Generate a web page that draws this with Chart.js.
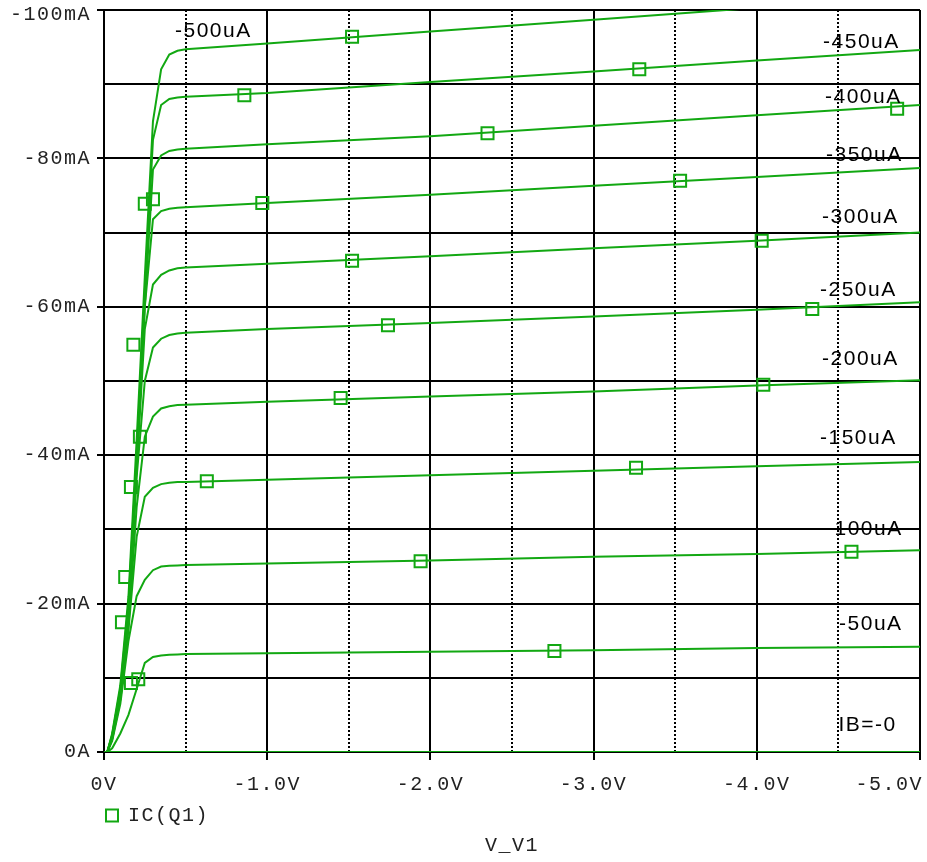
<!DOCTYPE html>
<html>
<head>
<meta charset="utf-8">
<script src="https://cdn.jsdelivr.net/npm/chart.js@4.4.1/dist/chart.umd.min.js"></script>
<style>
  html, body { margin: 0; padding: 0; background: #fff; }
  canvas { display: block; }
</style>
</head>
<body>
<canvas id="icChart" width="927" height="862"></canvas>
<script>
// V_V1 sweep (V)
var vSweep = [0, -0.02, -0.05, -0.1, -0.15, -0.2, -0.25, -0.3, -0.35, -0.4, -0.45, -0.5, -1.0, -2.0, -3.0, -4.0, -5.0];

// base current of each trace, also used as the in-plot labels
var baseCurrents = ['IB=-0', '-50uA', '-100uA', '-150uA', '-200uA', '-250uA', '-300uA', '-350uA', '-400uA', '-450uA', '-500uA'];

// IC(Q1) in mA, one array per base current
var ic0   = [0, 0, 0, 0, 0, 0, 0, 0, 0, 0, 0, 0, 0, 0, 0, 0, 0];
var ic50  = [0, 0, -0.5, -2.5, -5, -8.5, -12.0, -12.8, -13.0, -13.1, -13.15, -13.2, -13.3, -13.5, -13.7, -14.0, -14.2];
var ic100 = [0, 0, -1.5, -6.5, -15, -21, -23.2, -24.5, -25.0, -25.1, -25.15, -25.2, -25.4, -25.8, -26.3, -26.7, -27.2];
var ic150 = [0, 0, -1.7, -7, -16.5, -29, -34.4, -35.6, -36.1, -36.3, -36.4, -36.4, -36.7, -37.3, -37.9, -38.5, -39.1];
var ic200 = [0, 0, -1.8, -7.2, -17, -33, -42.5, -45.2, -46.3, -46.6, -46.75, -46.8, -47.2, -47.9, -48.6, -49.4, -50.1];
var ic250 = [0, 0, -1.9, -7.5, -18, -37, -50, -54.5, -55.7, -56.2, -56.4, -56.5, -57.0, -57.8, -58.7, -59.6, -60.6];
var ic300 = [0, 0, -2, -7.8, -18.5, -38, -57, -63, -64.3, -64.9, -65.2, -65.3, -65.8, -66.8, -67.9, -68.9, -70.0];
var ic350 = [0, 0, -2.1, -8, -19, -38.5, -60, -71.8, -72.9, -73.2, -73.35, -73.4, -74.0, -75.1, -76.3, -77.5, -78.7];
var ic400 = [0, 0, -2.2, -8.2, -19.5, -39, -60, -78.5, -80.4, -81.0, -81.2, -81.3, -81.9, -83.0, -84.4, -85.8, -87.2];
var ic450 = [0, 0, -2.3, -8.5, -20, -40, -62, -82.5, -87.2, -88.0, -88.2, -88.3, -88.8, -90.3, -91.7, -93.2, -94.6];
var ic500 = [0, 0, -2.5, -9, -21, -42, -64, -85, -92, -94.0, -94.5, -94.7, -95.5, -97.1, -98.7, -100.3, -101.9];

var icTraces = [ic0, ic50, ic100, ic150, ic200, ic250, ic300, ic350, ic400, ic450, ic500];

// marker squares of the IC(Q1) trace
var markerV = [-1.52, -0.86, -3.28, -2.35, -4.86, -0.97, -3.53, -1.52, -4.03, -1.74, -4.34, -1.45, -4.04, -0.63, -3.26, -1.94, -4.58, -2.76,
               -0.25, -0.30, -0.18, -0.22, -0.165, -0.13, -0.11, -0.165, -0.21];
var markerI = [-96.4, -88.5, -92.0, -83.4, -86.7, -74.0, -77.0, -66.2, -68.9, -57.5, -59.7, -47.7, -49.5, -36.5, -38.3, -25.7, -27.0, -13.6,
               -73.9, -74.5, -54.9, -42.5, -35.7, -23.6, -17.5, -9.3, -9.8];

var green = '#12a812';
var mono = '"Liberation Mono", "Courier New", monospace';

// where each base-current label sits, in axis units (V, mA)
var labelAnchors = [[-4.50, -3.64], [-4.504, -17.18], [-4.424, -29.99], [-4.387, -42.32], [-4.40, -52.96], [-4.387, -62.26],
                    [-4.40, -72.1], [-4.424, -80.46], [-4.418, -88.21], [-4.406, -95.69], [-0.435, -97.17]];

function isWhole(v) {
    return Math.abs(v - Math.round(v)) < 1e-6;
}

var datasets = icTraces.map(function(arr, k) {
    return {
        label: baseCurrents[k],
        data: vSweep.map(function(v, i) { return {x: v, y: arr[i]}; }),
        showLine: true,
        borderColor: green,
        borderWidth: 2,
        pointRadius: 0,
        tension: 0,
        fill: false
    };
});

datasets.push({
    label: 'IC(Q1)',
    data: markerV.map(function(v, i) { return {x: v, y: markerI[i]}; }),
    showLine: false,
    pointStyle: 'rect',
    pointRadius: 8.5,
    pointBorderWidth: 2,
    pointBorderColor: green,
    pointBackgroundColor: 'rgba(0,0,0,0)',
    borderColor: green,
    backgroundColor: 'rgba(0,0,0,0)'
});

var textSpacing = {
    id: 'textSpacing',
    beforeUpdate: function(chart) {
        chart.ctx.letterSpacing = '1.5px';
    },
    beforeDraw: function(chart) {
        chart.ctx.letterSpacing = '1.5px';
        // keep the edge labels inside the canvas like the original
        var xs = chart.scales.x;
        xs.getLabelItems().forEach(function(it) {
            if (it.label === '-5.0V') {
                it.options.textAlign = 'right';
                it.options.translation[0] = xs.right + 3;
            }
        });
        chart.scales.y.getLabelItems().forEach(function(it) {
            if (it.label === '-100mA') {
                it.options.translation[1] += 5;
            }
        });
    }
};

var curveLabels = {
    id: 'curveLabels',
    afterDatasetsDraw: function(chart) {
        var ctx = chart.ctx;
        var xs = chart.scales.x, ys = chart.scales.y;
        ctx.save();
        ctx.font = '21px "Liberation Sans", Arial, sans-serif';
        ctx.letterSpacing = '1.5px';
        ctx.fillStyle = '#000';
        ctx.textAlign = 'left';
        ctx.textBaseline = 'middle';
        baseCurrents.forEach(function(txt, i) {
            ctx.fillText(txt, xs.getPixelForValue(labelAnchors[i][0]), ys.getPixelForValue(labelAnchors[i][1]));
        });
        ctx.restore();
    }
};

var ctx = document.getElementById('icChart');

var icChart = new Chart(ctx, {
    type: 'scatter',
    data: { datasets: datasets },
    plugins: [textSpacing, curveLabels],
    options: {
        responsive: false,
        animation: false,
        devicePixelRatio: 1,
        layout: { autoPadding: false, padding: { top: 10, right: 7, bottom: 6.5, left: 0 } },
        scales: {
            x: {
                type: 'linear',
                min: -5,
                max: 0,
                reverse: true,
                afterFit: function(s) { s.height = 51.5; s.paddingLeft = 0; s.paddingRight = 0; },
                ticks: {
                    stepSize: 0.5,
                    autoSkip: false,
                    maxRotation: 0,
                    padding: 13,
                    color: '#222',
                    font: { family: mono, size: 20 },
                    callback: function(v) {
                        if (!isWhole(v)) return '';
                        return v === 0 ? '0V' : v.toFixed(1) + 'V';
                    }
                },
                grid: {
                    color: '#000',
                    lineWidth: 2,
                    tickLength: 8,
                    tickWidth: 2,
                    tickColor: function(c) {
                        return c.tick && isWhole(c.tick.value) ? '#000' : 'rgba(0,0,0,0)';
                    }
                },
                border: {
                    display: true,
                    color: '#000',
                    width: 2,
                    dash: function(c) {
                        return c.tick && !isWhole(c.tick.value) ? [2, 2] : [];
                    }
                }
            },
            y: {
                type: 'linear',
                min: -100,
                max: 0,
                reverse: true,
                afterFit: function(s) { s.width = 104; s.paddingTop = 0; s.paddingBottom = 0; },
                ticks: {
                    stepSize: 10,
                    autoSkip: false,
                    padding: 6,
                    color: '#222',
                    font: { family: mono, size: 20 },
                    callback: function(v) {
                        if (Math.round(v) % 20 !== 0) return '';
                        return v === 0 ? '0A' : v + 'mA';
                    }
                },
                grid: {
                    color: '#000',
                    lineWidth: 2,
                    tickLength: 7,
                    tickWidth: 2,
                    tickColor: function(c) {
                        return c.tick && Math.round(c.tick.value) % 20 === 0 ? '#000' : 'rgba(0,0,0,0)';
                    }
                },
                border: { display: true, color: '#000', width: 2 }
            }
        },
        plugins: {
            legend: {
                position: 'bottom',
                align: 'start',
                fullSize: false,
                labels: {
                    usePointStyle: true,
                    boxWidth: 12,
                    boxHeight: 12,
                    padding: 2,
                    color: '#222',
                    font: { family: mono, size: 20 },
                    filter: function(item) { return item.text === 'IC(Q1)'; }
                }
            },
            title: {
                display: true,
                text: 'V_V1',
                position: 'bottom',
                fullSize: false,
                color: '#222',
                padding: 0,
                font: { family: mono, size: 20, weight: 'normal', lineHeight: 1 }
            },
            tooltip: { enabled: false }
        }
    }
});
</script>
</body>
</html>
